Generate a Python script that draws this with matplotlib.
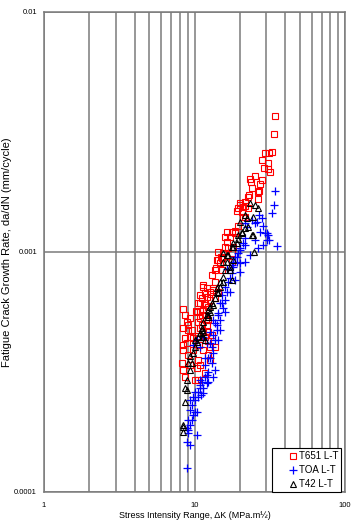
import matplotlib
matplotlib.use("Agg")
import matplotlib.pyplot as plt
from matplotlib.ticker import LogLocator, FixedLocator, NullFormatter, FixedFormatter

plt.rcParams['font.family'] = ['Liberation Sans', 'DejaVu Sans']

# ---- data: T651 L-T (red squares) ----
t651_dk = [34.3, 33.7, 29.4, 32.7, 31.3, 28.1, 30.8, 29.0, 30.8, 31.7,
           23.4, 23.7, 27.2, 26.8, 23.0, 26.4, 20.1, 19.2, 21.0, 21.6,
           22.7, 26.4, 20.1, 21.7, 19.5, 20.7, 22.7, 21.0, 16.4, 17.8,
           18.6, 15.9, 17.2, 16.4, 15.9, 16.7, 15.5, 15.2, 18.0, 17.8,
           17.8, 14.1, 14.8, 13.9, 13.7, 14.3, 15.0, 14.3, 11.4, 12.1,
           13.3, 14.3, 11.75, 10.9, 11.2, 10.55, 11.75, 10.4, 11.2, 12.3,
           10.55, 10.9, 12.1, 12.3, 10.55, 11.75, 12.7, 11.4, 12.3, 10.9,
           11.75, 10.55, 12.7, 11.4, 12.1, 12.7, 13.3, 11.75, 12.3, 8.65,
           8.9, 8.4, 9.05, 8.65, 9.34, 10.9, 11.2, 11.4, 12.3, 8.4,
           13.7, 13.1, 8.4, 9.05, 9.6, 8.9, 8.4, 9.8, 8.26, 8.4,
           8.65, 10.1, 10.4, 10.55, 10.9, 11.4, 11.9,
           10.2, 9.34, 13.7, 13.1, 15.2, 16.2, 18.6, 19.5, 25.2, 28.1,
           24.1, 21.7, 10.7, 9.8, 9.05, 9.34, 11.75, 12.7, 10.9, 13.7]
t651_da = [3.69e-3, 3.10e-3, 2.59e-3, 2.61e-3, 2.59e-3, 2.42e-3, 2.35e-3, 2.24e-3, 2.22e-3, 2.16e-3,
           2.01e-3, 1.96e-3, 1.92e-3, 1.79e-3, 1.73e-3, 1.66e-3, 1.60e-3, 1.48e-3, 1.54e-3, 1.40e-3,
           1.69e-3, 1.77e-3, 1.57e-3, 1.55e-3, 1.53e-3, 1.47e-3, 1.53e-3, 1.40e-3, 1.21e-3, 1.21e-3,
           1.20e-3, 1.16e-3, 1.16e-3, 1.10e-3, 1.05e-3, 1.04e-3, 9.9e-4, 9.45e-4, 1.05e-3, 9.9e-4,
           9.1e-4, 9.26e-4, 9.0e-4, 8.6e-4, 8.4e-4, 1.0e-3, 9.5e-4, 9.26e-4, 7.15e-4, 7.08e-4,
           6.95e-4, 6.81e-4, 6.75e-4, 6.62e-4, 6.43e-4, 6.13e-4, 6.01e-4, 5.62e-4, 5.46e-4, 5.21e-4,
           5.11e-4, 4.82e-4, 4.97e-4, 4.64e-4, 4.47e-4, 4.42e-4, 4.02e-4, 3.91e-4, 3.72e-4, 3.38e-4,
           3.13e-4, 2.93e-4, 3.55e-4, 7.29e-4, 6.5e-4, 6.8e-4, 7.08e-4, 6.13e-4, 5.9e-4, 5.46e-4,
           5.11e-4, 4.82e-4, 4.73e-4, 4.38e-4, 4.42e-4, 5.31e-4, 4.97e-4, 4.64e-4, 4.24e-4, 4.10e-4,
           4.02e-4, 4.51e-4, 5.79e-4, 4.97e-4, 4.73e-4, 4.18e-4, 3.91e-4, 3.91e-4, 3.45e-4, 3.22e-4,
           3.01e-4, 2.93e-4, 3.29e-4, 3.55e-4, 5.68e-4, 5.73e-4, 5.21e-4,
           5.68e-4, 5.31e-4, 7.5e-4, 8.0e-4, 8.4e-4, 9.1e-4, 1.22e-3, 1.28e-3, 2.07e-3, 2.0e-3,
           1.84e-3, 1.62e-3, 4.1e-4, 4.38e-4, 3.72e-4, 3.38e-4, 5.46e-4, 6.31e-4, 6.13e-4, 6.43e-4]

# ---- data: TOA L-T (blue pluses) ----
toa_dk = [34.3, 33.7, 32.7, 28.5, 30.3, 31.3, 35.3, 22.3, 21.7, 26.8,
          28.1, 25.9, 24.1, 25.2, 29.4, 30.8, 30.3, 28.5, 26.4, 20.1,
          19.3, 18.0, 17.8, 20.1, 16.4, 21.7, 21.0, 20.1, 19.5, 18.6,
          19.2, 18.0, 17.8, 17.2, 16.7, 15.9, 16.4, 15.2, 15.2, 15.9,
          14.3, 13.7, 14.1, 13.3, 13.7, 12.7, 13.3, 12.3, 13.1, 13.7,
          12.3, 11.75, 11.2, 12.1, 10.9, 11.4, 10.55, 13.3, 12.3, 10.9,
          10.1, 9.8, 9.6, 9.34, 10.4, 9.8, 8.9, 9.34, 9.05, 10.1,
          9.34, 9.05, 10.4, 8.9, 8.9, 9.05, 14.8, 15.5, 14.3, 13.3,
          14.1, 12.7, 11.4, 10.4, 12.1, 10.9, 9.8, 11.75, 12.1, 11.05,
          11.4, 10.9, 12.7, 21.7,
          15.9, 17.2, 18.6, 20.1, 21.7, 23.4, 25.2, 27.2, 14.8, 13.1,
          14.3, 11.75, 10.1, 10.55, 9.6, 9.34, 14.8]
toa_da = [1.79e-3, 1.57e-3, 1.45e-3, 1.28e-3, 1.20e-3, 1.12e-3, 1.06e-3, 1.27e-3, 1.14e-3, 1.43e-3,
          1.39e-3, 1.33e-3, 1.36e-3, 1.32e-3, 1.20e-3, 1.18e-3, 1.12e-3, 1.07e-3, 1.04e-3, 1.02e-3,
          9.5e-4, 9.1e-4, 8.8e-4, 9.0e-4, 8.5e-4, 1.32e-3, 1.09e-3, 1.04e-3, 9.9e-4, 9.5e-4,
          9.1e-4, 8.7e-4, 8.2e-4, 7.8e-4, 7.5e-4, 7.15e-4, 6.8e-4, 6.6e-4, 6.13e-4, 5.6e-4,
          5.46e-4, 5.06e-4, 4.73e-4, 4.51e-4, 4.30e-4, 4.18e-4, 3.8e-4, 3.6e-4, 3.45e-4, 3.22e-4,
          3.16e-4, 3.01e-4, 2.87e-4, 2.85e-4, 2.71e-4, 2.59e-4, 2.49e-4, 3.01e-4, 2.87e-4, 2.79e-4,
          2.61e-4, 2.49e-4, 2.30e-4, 2.20e-4, 2.16e-4, 2.09e-4, 1.85e-4, 2.42e-4, 2.0e-4, 2.16e-4,
          1.90e-4, 1.76e-4, 1.73e-4, 1.62e-4, 1.26e-4, 1.81e-4, 6.13e-4, 5.84e-4, 5.57e-4, 5.21e-4,
          4.97e-4, 4.64e-4, 4.42e-4, 4.30e-4, 4.18e-4, 4.02e-4, 4.10e-4, 3.6e-4, 3.07e-4, 2.54e-4,
          2.71e-4, 2.93e-4, 3.63e-4, 1.07e-3,
          6.31e-4, 6.81e-4, 7.64e-4, 8.25e-4, 9.1e-4, 9.72e-4, 1.12e-3, 1.21e-3, 5.21e-4, 4.0e-4,
          4.3e-4, 3.38e-4, 2.42e-4, 2.61e-4, 2.0e-4, 1.57e-4, 4.73e-4]

# ---- data: T42 L-T (black triangles) ----
t42_dk = [8.4, 8.4, 8.65, 8.9, 8.9, 9.34, 9.05, 9.8, 10.1, 10.55,
          10.9, 11.2, 11.4, 12.1, 12.3, 12.7, 13.1, 9.6, 8.65, 8.4,
          13.3, 12.7, 12.3, 11.2, 11.4, 11.75, 20.7, 24.5, 19.2, 18.0,
          15.5, 16.4, 18.0, 17.2, 15.5, 14.8, 14.1, 23.4, 25.2, 26.4,
          24.5, 22.3, 20.7, 19.5, 24.1, 18.0, 16.7, 15.5, 24.9, 14.8,
          15.5, 14.1, 12.3, 11.4, 11.2, 22.7, 19.5, 17.8, 16.4, 17.8,
          17.2, 21.7, 10.1, 10.4, 9.34, 13.7, 14.3, 15.9, 21.7, 20.1]
t42_da = [1.87e-4, 1.78e-4, 2.37e-4, 2.66e-4, 2.93e-4, 3.22e-4, 3.45e-4, 3.79e-4, 4.30e-4, 4.42e-4,
          4.60e-4, 4.82e-4, 5.11e-4, 5.46e-4, 5.73e-4, 5.90e-4, 6.13e-4, 3.45e-4, 2.71e-4, 1.90e-4,
          6.01e-4, 5.62e-4, 5.46e-4, 4.73e-4, 4.42e-4, 4.30e-4, 1.20e-3, 1.18e-3, 1.09e-3, 1.05e-3,
          9.9e-4, 9.7e-4, 9.26e-4, 8.4e-4, 7.5e-4, 7.15e-4, 6.8e-4, 1.60e-3, 1.57e-3, 1.53e-3,
          1.40e-3, 1.38e-3, 1.21e-3, 1.18e-3, 1.18e-3, 1.09e-3, 9.7e-4, 9.1e-4, 1.0e-3, 7.5e-4,
          7.85e-4, 7.08e-4, 5.36e-4, 4.64e-4, 4.42e-4, 1.27e-3, 1.13e-3, 1.05e-3, 9.1e-4, 7.64e-4,
          8.66e-4, 1.26e-3, 4.0e-4, 4.2e-4, 3.7e-4, 6.43e-4, 6.75e-4, 8.4e-4, 1.43e-3, 1.33e-3]

series_labels = ["T651 L-T", "TOA L-T", "T42 L-T"]
x_ticks = [1, 10, 100]
x_tick_labels = ["1", "10", "100"]
y_ticks = [0.0001, 0.001, 0.01]
y_tick_labels = ["0.0001", "0.001", "0.01"]

fig = plt.figure(figsize=(3.61, 5.24), dpi=100)
ax = fig.add_axes([0.1219, 0.0611, 0.8338, 0.916])
ax.set_xscale('log')
ax.set_yscale('log')
ax.set_xlim(1, 100)
ax.set_ylim(0.0001, 0.01)

grid_col = '#7a7a7a'
ax.xaxis.set_major_locator(FixedLocator(x_ticks))
ax.xaxis.set_major_formatter(FixedFormatter(x_tick_labels))
ax.xaxis.set_minor_locator(LogLocator(base=10, subs=range(2, 10)))
ax.xaxis.set_minor_formatter(NullFormatter())
ax.yaxis.set_major_locator(FixedLocator(y_ticks))
ax.yaxis.set_major_formatter(FixedFormatter(y_tick_labels))
ax.yaxis.set_minor_locator(FixedLocator([]))

ax.grid(True, axis='x', which='both', color=grid_col, lw=1.1)
ax.grid(True, axis='y', which='major', color=grid_col, lw=1.1)
ax.set_axisbelow(True)
for s in ax.spines.values():
    s.set_color(grid_col)
    s.set_linewidth(1.1)

ax.tick_params(axis='both', which='both', length=0, labelsize=5.5)
ax.tick_params(axis='y', pad=5)
ax.tick_params(axis='x', pad=7)

ms_kw = dict(linestyle='none', markerfacecolor='none')
ax.plot(t651_dk, t651_da, marker='s', markersize=4.5, markeredgecolor='#ff0000',
        markeredgewidth=0.8, label=series_labels[0], **ms_kw)
ax.plot(toa_dk, toa_da, marker='+', markersize=6, markeredgecolor='#0000ff',
        markeredgewidth=0.9, label=series_labels[1], linestyle='none')
ax.plot(t42_dk, t42_da, marker='^', markersize=4.0, markeredgecolor='#000000',
        markeredgewidth=0.8, label=series_labels[2], **ms_kw)

leg = ax.legend(loc='lower right', bbox_to_anchor=(0.987, 0.0), borderaxespad=0,
                fontsize=7, frameon=True, fancybox=False, edgecolor='black',
                framealpha=1, handlelength=3.7, handletextpad=-1.25, borderpad=0.3,
                labelspacing=0.4, markerscale=1.0)
leg.get_frame().set_linewidth(0.8)

ax.set_xlabel("Stress Intensity Range, ΔK (MPa.m½)", fontsize=6.5, labelpad=1.5)
ax.set_ylabel("Fatigue Crack Growth Rate, da/dN (mm/cycle)", fontsize=8)
ax.yaxis.set_label_coords(-0.105, 0.5)

fig.savefig("out.png", dpi=100)
